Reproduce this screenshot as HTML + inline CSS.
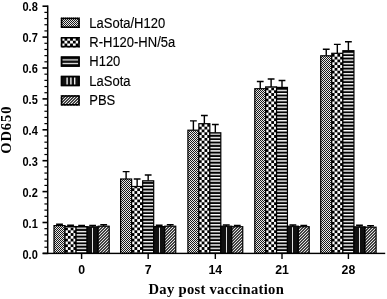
<!DOCTYPE html>
<html><head><meta charset="utf-8"><title>OD650 chart</title>
<style>
html,body{margin:0;padding:0;background:#fff;}
body{width:387px;height:299px;overflow:hidden;}
svg{display:block;}
text{fill:#000;}
.ab{font-family:"Liberation Sans",Arial,sans-serif;font-weight:bold;font-size:12.9px;}
.xb{font-family:"Liberation Sans",Arial,sans-serif;font-weight:bold;font-size:12.3px;}
.lg{font-family:"Liberation Sans",Arial,sans-serif;font-size:14px;stroke:#000;stroke-width:0.15px;}
.tb{font-family:"Liberation Serif","Times New Roman",serif;font-weight:bold;font-size:14px;}
</style></head><body>
<svg width="387" height="299" viewBox="0 0 387 299">
<defs>
<pattern id="p1" width="2" height="2" patternUnits="userSpaceOnUse">
<rect width="2" height="2" fill="#e8e8e8"/>
<rect x="0" y="0" width="1" height="1" fill="#1a1a1a"/>
<rect x="1" y="1" width="1" height="1" fill="#1a1a1a"/>
</pattern>
<pattern id="p2" width="5.6" height="5.6" patternUnits="userSpaceOnUse">
<rect width="5.6" height="5.6" fill="#fff"/>
<rect x="0" y="2.8" width="2.8" height="2.8" fill="#000"/>
<rect x="2.8" y="0" width="2.8" height="2.8" fill="#000"/>
</pattern>
<pattern id="p3" width="3.36" height="3.36" patternUnits="userSpaceOnUse">
<rect width="3.36" height="3.36" fill="#000"/>
<rect x="0" y="1.66" width="3.36" height="1.4" fill="#fff"/>
</pattern>
<pattern id="p5" width="3" height="3" patternUnits="userSpaceOnUse" shape-rendering="crispEdges">
<rect x="0" y="0" width="1" height="1" fill="rgb(228,228,228)"/>
<rect x="0" y="1" width="1" height="1" fill="rgb(62,62,62)"/>
<rect x="0" y="2" width="1" height="1" fill="rgb(70,70,70)"/>
<rect x="1" y="0" width="1" height="1" fill="rgb(62,62,62)"/>
<rect x="1" y="1" width="1" height="1" fill="rgb(70,70,70)"/>
<rect x="1" y="2" width="1" height="1" fill="rgb(228,228,228)"/>
<rect x="2" y="0" width="1" height="1" fill="rgb(70,70,70)"/>
<rect x="2" y="1" width="1" height="1" fill="rgb(228,228,228)"/>
<rect x="2" y="2" width="1" height="1" fill="rgb(62,62,62)"/>
</pattern>
</defs>
<rect width="387" height="299" fill="#fff"/>

<path d="M59.52 225.60V224.30M56.12 224.30H62.92" stroke="#000" stroke-width="1.4" fill="none"/>
<rect x="54.00" y="225.60" width="11.04" height="27.80" fill="url(#p1)"/>
<rect x="54.00" y="225.60" width="11.04" height="27.80" fill="none" stroke="#000" stroke-width="1.2"/>
<path d="M70.56 226.50V225.30M67.16 225.30H73.96" stroke="#000" stroke-width="1.4" fill="none"/>
<g transform="translate(65.04 252.70)"><rect x="0" y="-26.20" width="11.04" height="26.90" fill="url(#p2)"/></g>
<rect x="65.04" y="226.50" width="11.04" height="26.90" fill="none" stroke="#000" stroke-width="1.2"/>
<path d="M81.60 226.60V225.40M78.20 225.40H85.00" stroke="#000" stroke-width="1.4" fill="none"/>
<g transform="translate(76.08 252.70)"><rect x="0" y="-26.10" width="11.04" height="26.80" fill="url(#p3)"/></g>
<rect x="76.08" y="226.60" width="11.04" height="26.80" fill="none" stroke="#000" stroke-width="1.2"/>
<path d="M92.64 226.80V225.40M89.24 225.40H96.04" stroke="#000" stroke-width="1.4" fill="none"/>
<rect x="87.12" y="226.80" width="11.04" height="26.60" fill="#111"/>
<rect x="92" y="227.80" width="1" height="25.60" fill="#e2e2e2"/>
<rect x="87.12" y="226.80" width="11.04" height="26.60" fill="none" stroke="#000" stroke-width="1.2"/>
<path d="M103.68 226.20V224.80M100.28 224.80H107.08" stroke="#000" stroke-width="1.4" fill="none"/>
<rect x="98.16" y="226.20" width="11.04" height="27.20" fill="url(#p5)"/>
<rect x="98.16" y="226.20" width="11.04" height="27.20" fill="none" stroke="#000" stroke-width="1.2"/>
<path d="M126.11 179.00V171.60M122.71 171.60H129.51" stroke="#000" stroke-width="1.4" fill="none"/>
<rect x="120.60" y="179.00" width="11.03" height="74.40" fill="url(#p1)"/>
<rect x="120.60" y="179.00" width="11.03" height="74.40" fill="none" stroke="#000" stroke-width="1.2"/>
<path d="M137.14 186.50V179.00M133.74 179.00H140.54" stroke="#000" stroke-width="1.4" fill="none"/>
<g transform="translate(131.63 252.70)"><rect x="0" y="-66.20" width="11.03" height="66.90" fill="url(#p2)"/></g>
<rect x="131.63" y="186.50" width="11.03" height="66.90" fill="none" stroke="#000" stroke-width="1.2"/>
<path d="M148.17 180.80V175.00M144.77 175.00H151.57" stroke="#000" stroke-width="1.4" fill="none"/>
<g transform="translate(142.66 252.70)"><rect x="0" y="-71.90" width="11.03" height="72.60" fill="url(#p3)"/></g>
<rect x="142.66" y="180.80" width="11.03" height="72.60" fill="none" stroke="#000" stroke-width="1.2"/>
<path d="M159.20 226.60V225.20M155.80 225.20H162.60" stroke="#000" stroke-width="1.4" fill="none"/>
<rect x="153.69" y="226.60" width="11.03" height="26.80" fill="#111"/>
<rect x="159" y="227.60" width="1" height="25.80" fill="#e2e2e2"/>
<rect x="153.69" y="226.60" width="11.03" height="26.80" fill="none" stroke="#000" stroke-width="1.2"/>
<path d="M170.23 226.20V224.70M166.83 224.70H173.63" stroke="#000" stroke-width="1.4" fill="none"/>
<rect x="164.72" y="226.20" width="11.03" height="27.20" fill="url(#p5)"/>
<rect x="164.72" y="226.20" width="11.03" height="27.20" fill="none" stroke="#000" stroke-width="1.2"/>
<path d="M193.39 130.20V120.85M189.99 120.85H196.79" stroke="#000" stroke-width="1.4" fill="none"/>
<rect x="187.90" y="130.20" width="10.97" height="123.20" fill="url(#p1)"/>
<rect x="187.90" y="130.20" width="10.97" height="123.20" fill="none" stroke="#000" stroke-width="1.2"/>
<path d="M204.36 123.70V115.45M200.96 115.45H207.76" stroke="#000" stroke-width="1.4" fill="none"/>
<g transform="translate(198.87 252.70)"><rect x="0" y="-129.00" width="10.97" height="129.70" fill="url(#p2)"/></g>
<rect x="198.87" y="123.70" width="10.97" height="129.70" fill="none" stroke="#000" stroke-width="1.2"/>
<path d="M215.33 132.80V124.45M211.93 124.45H218.73" stroke="#000" stroke-width="1.4" fill="none"/>
<g transform="translate(209.84 252.70)"><rect x="0" y="-119.90" width="10.97" height="120.60" fill="url(#p3)"/></g>
<rect x="209.84" y="132.80" width="10.97" height="120.60" fill="none" stroke="#000" stroke-width="1.2"/>
<path d="M226.30 226.20V225.00M222.90 225.00H229.70" stroke="#000" stroke-width="1.4" fill="none"/>
<rect x="220.81" y="226.20" width="10.97" height="27.20" fill="#111"/>
<rect x="226" y="227.20" width="1" height="26.20" fill="#e2e2e2"/>
<rect x="220.81" y="226.20" width="10.97" height="27.20" fill="none" stroke="#000" stroke-width="1.2"/>
<path d="M237.27 226.70V225.40M233.87 225.40H240.67" stroke="#000" stroke-width="1.4" fill="none"/>
<rect x="231.78" y="226.70" width="10.97" height="26.70" fill="url(#p5)"/>
<rect x="231.78" y="226.70" width="10.97" height="26.70" fill="none" stroke="#000" stroke-width="1.2"/>
<path d="M260.24 88.70V81.50M256.84 81.50H263.64" stroke="#000" stroke-width="1.4" fill="none"/>
<rect x="254.80" y="88.70" width="10.88" height="164.70" fill="url(#p1)"/>
<rect x="254.80" y="88.70" width="10.88" height="164.70" fill="none" stroke="#000" stroke-width="1.2"/>
<path d="M271.12 86.90V79.00M267.72 79.00H274.52" stroke="#000" stroke-width="1.4" fill="none"/>
<g transform="translate(265.68 252.70)"><rect x="0" y="-165.80" width="10.88" height="166.50" fill="url(#p2)"/></g>
<rect x="265.68" y="86.90" width="10.88" height="166.50" fill="none" stroke="#000" stroke-width="1.2"/>
<path d="M282.00 87.40V80.50M278.60 80.50H285.40" stroke="#000" stroke-width="1.4" fill="none"/>
<g transform="translate(276.56 252.70)"><rect x="0" y="-165.30" width="10.88" height="166.00" fill="url(#p3)"/></g>
<rect x="276.56" y="87.40" width="10.88" height="166.00" fill="none" stroke="#000" stroke-width="1.2"/>
<path d="M292.88 226.20V225.00M289.48 225.00H296.28" stroke="#000" stroke-width="1.4" fill="none"/>
<rect x="287.44" y="226.20" width="10.88" height="27.20" fill="#111"/>
<rect x="292" y="227.20" width="1" height="26.20" fill="#e2e2e2"/>
<rect x="287.44" y="226.20" width="10.88" height="27.20" fill="none" stroke="#000" stroke-width="1.2"/>
<path d="M303.76 226.70V225.40M300.36 225.40H307.16" stroke="#000" stroke-width="1.4" fill="none"/>
<rect x="298.32" y="226.70" width="10.88" height="26.70" fill="url(#p5)"/>
<rect x="298.32" y="226.70" width="10.88" height="26.70" fill="none" stroke="#000" stroke-width="1.2"/>
<path d="M326.24 55.80V49.30M322.84 49.30H329.64" stroke="#000" stroke-width="1.4" fill="none"/>
<rect x="320.70" y="55.80" width="11.08" height="197.60" fill="url(#p1)"/>
<rect x="320.70" y="55.80" width="11.08" height="197.60" fill="none" stroke="#000" stroke-width="1.2"/>
<path d="M337.32 53.30V44.40M333.92 44.40H340.72" stroke="#000" stroke-width="1.4" fill="none"/>
<g transform="translate(331.78 252.70)"><rect x="0" y="-199.40" width="11.08" height="200.10" fill="url(#p2)"/></g>
<rect x="331.78" y="53.30" width="11.08" height="200.10" fill="none" stroke="#000" stroke-width="1.2"/>
<path d="M348.40 50.70V41.70M345.00 41.70H351.80" stroke="#000" stroke-width="1.4" fill="none"/>
<g transform="translate(342.86 252.70)"><rect x="0" y="-202.00" width="11.08" height="202.70" fill="url(#p3)"/></g>
<rect x="342.86" y="50.70" width="11.08" height="202.70" fill="none" stroke="#000" stroke-width="1.2"/>
<path d="M359.48 226.80V225.20M356.08 225.20H362.88" stroke="#000" stroke-width="1.4" fill="none"/>
<rect x="353.94" y="226.80" width="11.08" height="26.60" fill="#111"/>
<rect x="359" y="227.80" width="1" height="25.60" fill="#e2e2e2"/>
<rect x="353.94" y="226.80" width="11.08" height="26.60" fill="none" stroke="#000" stroke-width="1.2"/>
<path d="M370.56 227.20V225.80M367.16 225.80H373.96" stroke="#000" stroke-width="1.4" fill="none"/>
<rect x="365.02" y="227.20" width="11.08" height="26.20" fill="url(#p5)"/>
<rect x="365.02" y="227.20" width="11.08" height="26.20" fill="none" stroke="#000" stroke-width="1.2"/>
<rect x="46.95" y="5.40" width="1.5" height="248.70" fill="#000"/>
<rect x="42.8" y="252.70" width="342.40" height="1.4" fill="#000"/>
<rect x="42.5" y="252.60" width="5" height="1.6" fill="#000"/>
<text class="ab" transform="translate(37.8 258.60) scale(0.855 1)" text-anchor="end">0.0</text>
<rect x="44.4" y="246.62" width="3" height="1.2" fill="#000"/>
<rect x="44.4" y="240.44" width="3" height="1.2" fill="#000"/>
<rect x="44.4" y="234.26" width="3" height="1.2" fill="#000"/>
<rect x="44.4" y="228.08" width="3" height="1.2" fill="#000"/>
<rect x="42.5" y="221.70" width="5" height="1.6" fill="#000"/>
<text class="ab" transform="translate(37.8 227.70) scale(0.855 1)" text-anchor="end">0.1</text>
<rect x="44.4" y="215.72" width="3" height="1.2" fill="#000"/>
<rect x="44.4" y="209.54" width="3" height="1.2" fill="#000"/>
<rect x="44.4" y="203.36" width="3" height="1.2" fill="#000"/>
<rect x="44.4" y="197.18" width="3" height="1.2" fill="#000"/>
<rect x="42.5" y="190.80" width="5" height="1.6" fill="#000"/>
<text class="ab" transform="translate(37.8 196.80) scale(0.855 1)" text-anchor="end">0.2</text>
<rect x="44.4" y="184.82" width="3" height="1.2" fill="#000"/>
<rect x="44.4" y="178.64" width="3" height="1.2" fill="#000"/>
<rect x="44.4" y="172.46" width="3" height="1.2" fill="#000"/>
<rect x="44.4" y="166.28" width="3" height="1.2" fill="#000"/>
<rect x="42.5" y="159.90" width="5" height="1.6" fill="#000"/>
<text class="ab" transform="translate(37.8 165.90) scale(0.855 1)" text-anchor="end">0.3</text>
<rect x="44.4" y="153.92" width="3" height="1.2" fill="#000"/>
<rect x="44.4" y="147.74" width="3" height="1.2" fill="#000"/>
<rect x="44.4" y="141.56" width="3" height="1.2" fill="#000"/>
<rect x="44.4" y="135.38" width="3" height="1.2" fill="#000"/>
<rect x="42.5" y="129.00" width="5" height="1.6" fill="#000"/>
<text class="ab" transform="translate(37.8 135.00) scale(0.855 1)" text-anchor="end">0.4</text>
<rect x="44.4" y="123.02" width="3" height="1.2" fill="#000"/>
<rect x="44.4" y="116.84" width="3" height="1.2" fill="#000"/>
<rect x="44.4" y="110.66" width="3" height="1.2" fill="#000"/>
<rect x="44.4" y="104.48" width="3" height="1.2" fill="#000"/>
<rect x="42.5" y="98.10" width="5" height="1.6" fill="#000"/>
<text class="ab" transform="translate(37.8 104.10) scale(0.855 1)" text-anchor="end">0.5</text>
<rect x="44.4" y="92.12" width="3" height="1.2" fill="#000"/>
<rect x="44.4" y="85.94" width="3" height="1.2" fill="#000"/>
<rect x="44.4" y="79.76" width="3" height="1.2" fill="#000"/>
<rect x="44.4" y="73.58" width="3" height="1.2" fill="#000"/>
<rect x="42.5" y="67.20" width="5" height="1.6" fill="#000"/>
<text class="ab" transform="translate(37.8 73.20) scale(0.855 1)" text-anchor="end">0.6</text>
<rect x="44.4" y="61.22" width="3" height="1.2" fill="#000"/>
<rect x="44.4" y="55.04" width="3" height="1.2" fill="#000"/>
<rect x="44.4" y="48.86" width="3" height="1.2" fill="#000"/>
<rect x="44.4" y="42.68" width="3" height="1.2" fill="#000"/>
<rect x="42.5" y="36.30" width="5" height="1.6" fill="#000"/>
<text class="ab" transform="translate(37.8 42.30) scale(0.855 1)" text-anchor="end">0.7</text>
<rect x="44.4" y="30.32" width="3" height="1.2" fill="#000"/>
<rect x="44.4" y="24.14" width="3" height="1.2" fill="#000"/>
<rect x="44.4" y="17.96" width="3" height="1.2" fill="#000"/>
<rect x="44.4" y="11.78" width="3" height="1.2" fill="#000"/>
<rect x="42.5" y="5.40" width="5" height="1.6" fill="#000"/>
<text class="ab" transform="translate(37.8 11.40) scale(0.855 1)" text-anchor="end">0.8</text>
<rect x="80.90" y="253.40" width="1.4" height="5.6" fill="#000"/>
<text class="xb" x="81.60" y="274" text-anchor="middle">0</text>
<rect x="147.47" y="253.40" width="1.4" height="5.6" fill="#000"/>
<text class="xb" x="148.17" y="274" text-anchor="middle">7</text>
<rect x="214.63" y="253.40" width="1.4" height="5.6" fill="#000"/>
<text class="xb" x="215.33" y="274" text-anchor="middle">14</text>
<rect x="281.30" y="253.40" width="1.4" height="5.6" fill="#000"/>
<text class="xb" x="282.00" y="274" text-anchor="middle">21</text>
<rect x="347.70" y="253.40" width="1.4" height="5.6" fill="#000"/>
<text class="xb" x="348.40" y="274" text-anchor="middle">28</text>
<text class="tb" style="font-size:14.6px" x="216.3" y="294.3" text-anchor="middle" letter-spacing="0.29">Day post vaccination</text>
<text class="tb" style="font-size:14.5px" transform="translate(11.2 129.7) rotate(-90)" text-anchor="middle" letter-spacing="0.9">OD650</text>
<rect x="60.8" y="17.60" width="19" height="10.4" fill="url(#p1)"/>
<rect x="61.599999999999994" y="18.40" width="17.40" height="8.80" fill="none" stroke="#000" stroke-width="1.6"/>
<text class="lg" transform="translate(89.3 27.50) scale(0.928 1)">LaSota/H120</text>
<g transform="translate(61.699999999999996 37.90)"><rect x="-0.9" y="-0.9" width="19" height="10.4" fill="url(#p2)"/></g>
<rect x="61.599999999999994" y="37.80" width="17.40" height="8.80" fill="none" stroke="#000" stroke-width="1.6"/>
<text class="lg" transform="translate(89.3 46.90) scale(0.928 1)">R-H120-HN/5a</text>
<rect x="60.8" y="56.40" width="19" height="10.4" fill="#111"/>
<rect x="62.199999999999996" y="59.25" width="16.20" height="1.3" fill="#d8d8d8"/>
<rect x="62.199999999999996" y="62.85" width="16.20" height="1.3" fill="#d8d8d8"/>
<rect x="61.599999999999994" y="57.20" width="17.40" height="8.80" fill="none" stroke="#000" stroke-width="1.6"/>
<text class="lg" transform="translate(89.3 66.30) scale(0.928 1)">H120</text>
<rect x="60.8" y="75.80" width="19" height="10.4" fill="#111"/>
<rect x="66.40" y="77.20" width="1.4" height="7.60" fill="#eee"/>
<rect x="70.20" y="77.20" width="1.4" height="7.60" fill="#eee"/>
<rect x="74.00" y="77.20" width="1.4" height="7.60" fill="#eee"/>
<rect x="61.599999999999994" y="76.60" width="17.40" height="8.80" fill="none" stroke="#000" stroke-width="1.6"/>
<text class="lg" transform="translate(89.3 85.70) scale(0.928 1)">LaSota</text>
<rect x="60.8" y="95.20" width="19" height="10.4" fill="url(#p5)"/>
<rect x="61.599999999999994" y="96.00" width="17.40" height="8.80" fill="none" stroke="#000" stroke-width="1.6"/>
<text class="lg" transform="translate(89.3 105.10) scale(0.928 1)">PBS</text>
</svg></body></html>
